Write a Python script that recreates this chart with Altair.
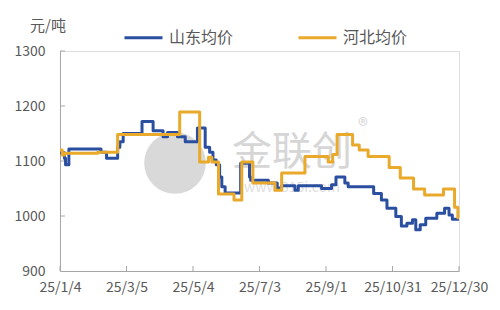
import altair as alt
import pandas as pd

# 山东均价 (change points)
sd_dates = ["2025-01-04", "2025-01-08", "2025-01-09", "2025-01-12", "2025-02-10", "2025-02-15",
            "2025-02-25", "2025-02-27", "2025-03-02", "2025-03-19", "2025-03-29", "2025-04-07",
            "2025-04-11", "2025-04-20", "2025-04-27", "2025-05-08", "2025-05-15", "2025-05-19",
            "2025-05-22", "2025-05-25", "2025-05-28", "2025-05-30", "2025-06-02", "2025-06-16",
            "2025-06-24", "2025-06-25", "2025-07-11", "2025-07-19", "2025-07-23", "2025-08-04",
            "2025-08-07", "2025-08-28", "2025-09-06", "2025-09-10", "2025-09-18", "2025-09-21",
            "2025-10-14", "2025-10-21", "2025-10-26", "2025-11-03", "2025-11-08", "2025-11-13",
            "2025-11-18", "2025-11-21", "2025-11-25", "2025-11-30", "2025-12-10", "2025-12-17",
            "2025-12-21", "2025-12-24", "2025-12-30"]
sd_values = [1115, 1105, 1093, 1122, 1116, 1105,
             1125, 1135, 1150, 1172, 1155, 1144,
             1152, 1144, 1135, 1160, 1125, 1116,
             1102, 1093, 1071, 1053, 1042, 1096,
             1071, 1065, 1060, 1051, 1055, 1047,
             1055, 1050, 1057, 1071, 1060, 1053,
             1041, 1029, 1014, 999, 982, 987,
             993, 975, 984, 996, 1005, 1014,
             1002, 994, 994]

# 河北均价 (change points)
hb_dates = ["2025-01-04", "2025-01-06", "2025-01-08", "2025-02-07", "2025-02-25", "2025-04-22",
            "2025-05-10", "2025-05-18", "2025-05-21", "2025-05-27", "2025-06-10", "2025-06-17",
            "2025-06-27", "2025-07-17", "2025-07-23", "2025-08-13", "2025-09-03", "2025-09-07",
            "2025-09-11", "2025-09-25", "2025-10-01", "2025-10-09", "2025-10-28", "2025-11-07",
            "2025-11-19", "2025-11-29", "2025-12-16", "2025-12-26", "2025-12-29", "2025-12-30"]
hb_values = [1120, 1111, 1114, 1116, 1148, 1189,
             1098, 1107, 1098, 1040, 1029, 1098,
             1060, 1047, 1078, 1108, 1098, 1112,
             1148, 1129, 1120, 1108, 1088, 1069,
             1049, 1038, 1049, 1016, 997, 997]

series_names = ["山东均价", "河北均价"]
series_colors = ["#2B4FA0", "#E9A92A"]

x_tick_dates = ["2025-01-04", "2025-03-05", "2025-05-04", "2025-07-03",
                "2025-09-01", "2025-10-31", "2025-12-30"]
y_ticks = [1000, 1100, 1200, 1300]
y_labels = [900, 1000, 1100, 1200, 1300]
unit_label = "元/吨"

df = pd.concat([
    pd.DataFrame({"date": sd_dates, "value": sd_values, "series": series_names[0], "ord": 0}),
    pd.DataFrame({"date": hb_dates, "value": hb_values, "series": series_names[1], "ord": 1}),
])

def dt(s):
    y, m, d = map(int, s.split("-"))
    return alt.DateTime(year=y, month=m, date=d, utc=True)

W, H = 399, 220
FONT = "Noto Sans CJK SC"
GRAY = "#595959"
AXIS = "#A6A6A6"

x_scale = alt.Scale(type="utc", domain=[dt(x_tick_dates[0]), dt(x_tick_dates[-1])])
y_scale = alt.Scale(domain=[900, 1300])

x_axis = alt.Axis(title=None, values=[dt(s) for s in x_tick_dates],
                  labelExpr="utcFormat(datum.value, '%y') + '/' + (utcmonth(datum.value) + 1) + '/' + utcdate(datum.value)",
                  ticks=False, grid=False, domainColor=AXIS,
                  labelFont=FONT, labelFontSize=14, labelColor=GRAY, labelPadding=9,
                  labelOverlap=False, labelFlush=False)
y_axis = alt.Axis(title=None, format="d",
                  values=y_labels, ticks=False, grid=False,
                  domainColor=AXIS, labelFont=FONT, labelFontSize=14, labelColor=GRAY,
                  labelPadding=15)

X = alt.X("date:T", scale=x_scale, axis=x_axis)
Y = alt.Y("value:Q", scale=y_scale, axis=y_axis)

lines = alt.Chart(df).mark_line(interpolate="step-after", strokeWidth=3, strokeJoin="round").encode(
    x=X, y=Y,
    color=alt.Color("series:N", scale=alt.Scale(domain=series_names, range=series_colors),
                    legend=alt.Legend(title=None, orient="none", legendX=63, legendY=-34,
                                      direction="horizontal", symbolType="stroke",
                                      symbolSize=1444, symbolStrokeWidth=3, labelFont=FONT,
                                      labelFontSize=16, labelColor=GRAY, labelOffset=5,
                                      columnPadding=58, padding=0)),
    order=alt.Order("ord:Q"),
)

xt = alt.Chart(pd.DataFrame({"date": x_tick_dates})).mark_rule(color=AXIS, strokeWidth=1).encode(
    x=X, y=alt.value(H - 5), y2=alt.value(H))
yt = alt.Chart(pd.DataFrame({"value": y_ticks})).mark_rule(color=AXIS, strokeWidth=1).encode(
    y=Y, x=alt.value(0), x2=alt.value(5))

one = pd.DataFrame({"k": [0]})
unit = alt.Chart(one).mark_text(font=FONT, fontSize=15, color=GRAY, align="center",
                                baseline="middle").encode(
    x=alt.value(-12), y=alt.value(-25), text=alt.value(unit_label))
wm_circle = alt.Chart(one).mark_point(filled=True, shape="circle", color="#D9D9D9", opacity=1).encode(
    x=alt.value(115), y=alt.value(112), size=alt.value(3800))
wm_text = alt.Chart(one).mark_text(font=FONT, fontSize=40, color="#D6D6D6").encode(
    x=alt.value(232), y=alt.value(102), text=alt.value("金联创"))
wm_url = alt.Chart(one).mark_text(font=FONT, fontSize=14, color="#DEDEDE").encode(
    x=alt.value(232), y=alt.value(137), text=alt.value("www.315i.com"))
wm_r = alt.Chart(one).mark_text(font=FONT, fontSize=20, color="#D6D6D6").encode(
    x=alt.value(303), y=alt.value(76), text=alt.value("®"))

chart = alt.layer(xt, yt, unit, wm_circle, wm_text, wm_url, wm_r, lines).properties(
    width=W, height=H,
    autosize=alt.AutoSizeParams(type="none"),
    padding={"left": 60, "top": 51, "right": 41, "bottom": 39},
).configure_view(stroke=None).configure(background="white")

chart.save("out.html", embed_options={"renderer": "svg", "actions": False})
